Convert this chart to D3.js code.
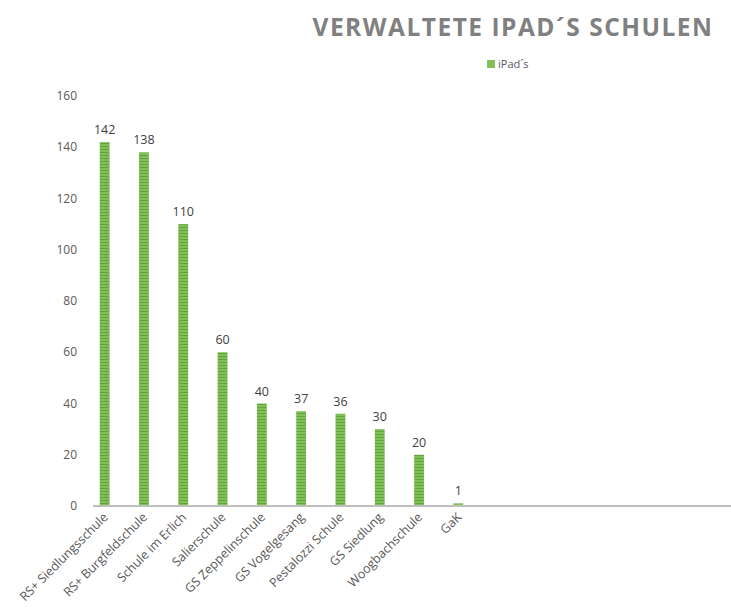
<!DOCTYPE html>
<html>
<head>
<meta charset="utf-8">
<script src="https://cdn.jsdelivr.net/npm/d3@7"></script>
<style>
  body { margin: 0; background: #fff; }
  svg { display: block; font-family: "Open Sans", sans-serif; }
</style>
</head>
<body>
<div id="chart"></div>
<script>
const schools = ["RS+ Siedlungsschule", "RS+ Burgfeldschule", "Schule im Erlich", "Salierschule",
  "GS Zeppelinschule", "GS Vogelgesang", "Pestalozzi Schule", "GS Siedlung", "Woogbachschule", "GaK"];
const ipads = [142, 138, 110, 60, 40, 37, 36, 30, 20, 1];
const yTicks = [0, 20, 40, 60, 80, 100, 120, 140, 160];
const seriesName = "iPad´s";
const title = "VERWALTETE IPAD´S SCHULEN";

const width = 731, height = 616;
const svg = d3.select("#chart").append("svg")
  .attr("width", width)
  .attr("height", height);

// striped green fill like the original
const defs = svg.append("defs");
const pat = defs.append("pattern")
  .attr("id", "stripes")
  .attr("patternUnits", "userSpaceOnUse")
  .attr("width", 10).attr("height", 3);
pat.append("rect").attr("width", 10).attr("height", 3).attr("fill", "#80c057");
pat.append("rect").attr("y", 2).attr("width", 10).attr("height", 1).attr("fill", "#62a53e");

const x = d3.scaleBand()
  .domain(schools)
  .range([85, 478])
  .paddingInner(0.75)
  .paddingOuter(0.375);

const y = d3.scaleLinear().domain([0, 160]).range([506, 96]);

// title
svg.append("text")
  .attr("x", 513).attr("y", 36)
  .attr("text-anchor", "middle")
  .attr("font-size", 24.5)
  .attr("font-weight", "bold")
  .attr("letter-spacing", 1.5)
  .attr("fill", "#808080")
  .text(title);

// legend
svg.append("rect").attr("x", 487).attr("y", 60).attr("width", 8).attr("height", 8).attr("fill", "#80c057");
svg.append("text")
  .attr("x", 498).attr("y", 68)
  .attr("font-size", 11)
  .attr("fill", "#595959")
  .text(seriesName);

// y axis labels (no line)
svg.append("g")
  .selectAll("text")
  .data(yTicks)
  .join("text")
  .attr("x", 77)
  .attr("y", d => y(d) + 4)
  .attr("text-anchor", "end")
  .attr("font-size", 12)
  .attr("fill", "#595959")
  .text(d => d);

// bars
svg.append("g")
  .selectAll("rect")
  .data(ipads)
  .join("rect")
  .attr("x", (d, i) => x(schools[i]))
  .attr("y", d => y(d))
  .attr("width", x.bandwidth())
  .attr("height", d => y(0) - y(d))
  .attr("fill", "url(#stripes)");

// value labels
svg.append("g")
  .selectAll("text")
  .data(ipads)
  .join("text")
  .attr("x", (d, i) => x(schools[i]) + x.bandwidth() / 2)
  .attr("y", d => y(d) - 8)
  .attr("text-anchor", "middle")
  .attr("font-size", 12.5)
  .attr("fill", "#404040")
  .text(d => d);

// baseline
svg.append("line")
  .attr("x1", 93).attr("x2", width)
  .attr("y1", y(0)).attr("y2", y(0))
  .attr("stroke", "#bfbfbf")
  .attr("stroke-width", 2);

// category labels
svg.append("g")
  .selectAll("text")
  .data(schools)
  .join("text")
  .attr("transform", d => `translate(${x(d) + x.bandwidth() / 2 + 4},${y(0) + 12}) rotate(-45)`)
  .attr("text-anchor", "end")
  .attr("font-size", 12.5)
  .attr("fill", "#595959")
  .text(d => d);
</script>
</body>
</html>
